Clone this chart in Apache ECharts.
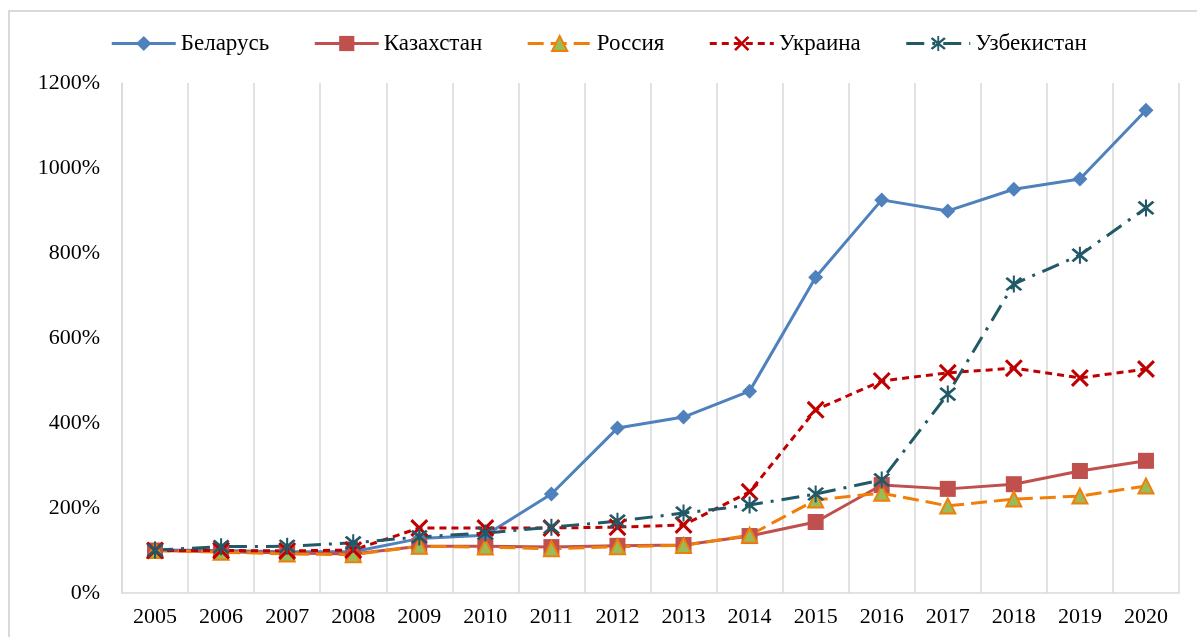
<!DOCTYPE html>
<html>
<head>
<meta charset="utf-8">
<script src="https://cdn.jsdelivr.net/npm/echarts@6/dist/echarts.min.js"></script>
<style>
html,body{margin:0;padding:0;background:#fff;}
#main{width:1197px;height:637px;}
</style>
</head>
<body>
<div id="main"></div>
<script>
var years=['2005','2006','2007','2008','2009','2010','2011','2012','2013','2014','2015','2016','2017','2018','2019','2020'];
var belarus=[101,100,97,97,128,136,233,388,414,475,743,925,899,950,974,1136];
var kazakhstan=[100,97,94,92,110,110,108,111,113,134,167,254,245,256,287,311];
var russia=[100,96,92,90,110,108,104,109,112,136,219,235,205,221,228,252];
var ukraine=[100,100,99,101,153,153,153,155,160,238,431,499,518,529,506,527];
var uzbekistan=[101,109,110,118,132,141,155,169,188,207,233,266,468,727,795,906];
var yTicks=[0,200,400,600,800,1000,1200];

// крестик и звёздочка как залитые контуры
var crossPath='path://M0,1.2 L1.2,0 L10,8.8 L8.8,10 Z M8.8,0 L10,1.2 L1.2,10 L0,8.8 Z';
var starPath='path://M0,1.2 L1.2,0 L10,8.8 L8.8,10 Z M8.8,0 L10,1.2 L1.2,10 L0,8.8 Z M4.4,-1 L5.6,-1 L5.6,11 L4.4,11 Z';

var myChart=echarts.init(document.getElementById('main'));
var font='"Liberation Serif", "Times New Roman", serif';

var option={
    animation:false,
    textStyle:{fontFamily:font},
    graphic:[{
        type:'rect',
        shape:{x:9,y:11,width:1200,height:700},
        style:{fill:'none',stroke:'#d9d9d9',lineWidth:2},
        silent:true
    }],
    legend:{
        top:27,
        left:'center',
        itemGap:44,
        itemWidth:64,
        itemHeight:19,
        lineStyle:{width:3},
        textStyle:{fontFamily:font,fontSize:23,color:'#000'},
        data:['Беларусь','Казахстан','Россия','Украина','Узбекистан']
    },
    grid:{left:122,right:18,top:83,bottom:44},
    xAxis:{
        type:'category',
        data:years,
        boundaryGap:true,
        axisLine:{lineStyle:{color:'#d9d9d9',width:1.5}},
        axisTick:{show:false},
        axisLabel:{color:'#000',fontSize:22,fontFamily:font,margin:13,interval:0},
        splitLine:{show:true,interval:0,lineStyle:{color:'#d9d9d9',width:1.5}}
    },
    yAxis:{
        type:'value',
        min:yTicks[0],
        max:yTicks[yTicks.length-1],
        interval:200,
        axisLine:{show:true,lineStyle:{color:'#d9d9d9',width:1.5}},
        axisTick:{show:false},
        splitLine:{show:false},
        axisLabel:{color:'#000',fontSize:22,fontFamily:font,margin:22,
            formatter:function(v){return v+'%';}}
    },
    series:[
        {
            name:'Беларусь',type:'line',data:belarus,
            symbol:'diamond',symbolSize:15,
            lineStyle:{color:'#4f81bd',width:3},
            itemStyle:{color:'#4f81bd'}
        },
        {
            name:'Казахстан',type:'line',data:kazakhstan,
            symbol:'rect',symbolSize:16,
            lineStyle:{color:'#c0504d',width:3},
            itemStyle:{color:'#c0504d'}
        },
        {
            name:'Россия',type:'line',data:russia,
            symbol:'triangle',symbolSize:15,
            lineStyle:{color:'#f07f09',width:3,type:[16,7]},
            itemStyle:{color:'#9bbb59',borderColor:'#f07f09',borderWidth:2}
        },
        {
            name:'Украина',type:'line',data:ukraine,
            symbol:crossPath,symbolSize:18,
            lineStyle:{color:'#c00000',width:3,type:[7,5]},
            itemStyle:{color:'#c00000'}
        },
        {
            name:'Узбекистан',type:'line',data:uzbekistan,
            symbol:starPath,symbolSize:17,
            lineStyle:{color:'#215967',width:3,type:[18,8,3,8]},
            itemStyle:{color:'#215967'}
        }
    ]
};
myChart.setOption(option);
</script>
</body>
</html>
